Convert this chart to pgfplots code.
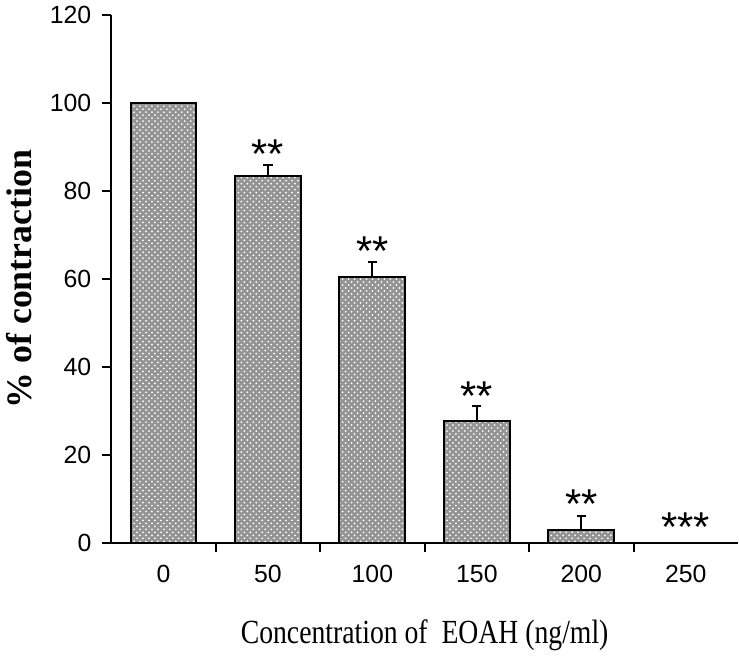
\documentclass[border=0pt]{standalone}
\usepackage{fontspec}
\setmainfont{Liberation Serif}
\newfontfamily\arial{Liberation Sans}
\newfontfamily\condensed[FakeStretch=0.82]{Liberation Serif}
\usepackage{pgfplots}
\pgfplotsset{compat=1.18}
\usetikzlibrary{patterns}
\begin{document}
\begin{tikzpicture}
\begin{axis}[
  scale only axis,
  width=315.5pt, height=265.5pt,
  xmin=-0.5, xmax=5.5,
  ymin=0, ymax=120,
  axis x line=bottom, axis y line=left,
  axis line style={-, line width=1pt},
  /pgf/number format/assume math mode=true,
  xtick={0,1,2,3,4,5},
  xticklabels={0,50,100,150,200,250},
  major x tick style={draw=none},
  minor xtick={0.5,1.5,2.5,3.5,4.5},
  minor x tick style={draw=black, line width=1pt},
  minor tick length=4.5pt,
  ytick={0,20,...,120},
  major tick length=4.5pt,
  y tick style={line width=1pt, black},
  tick align=outside,
  tick label style={font=\arial\fontsize{12.5}{14}\selectfont},
  xticklabel style={yshift=-3pt},
  yticklabel style={xshift=-2pt},
  xlabel={\condensed\fontsize{17}{19}\selectfont Concentration of\ \ EOAH (ng/ml)},
  ylabel={\bfseries\fontsize{18}{20}\selectfont \% of contraction},
  xlabel style={yshift=-12pt},
  ylabel style={yshift=2pt},
  clip=false,
]
\addplot[ybar, bar width=0.63, draw=black, line width=1pt,
  fill=black!42, postaction={pattern=crosshatch dots, pattern color=white},
  error bars/.cd, y dir=plus, y explicit,
  error bar style={line width=1pt, black},
  error mark options={rotate=90, mark size=2.3pt, line width=1pt}]
  coordinates {
  (0,100) +- (0,0)
  (1,83.5) +- (0,2.5)
  (2,60.5) +- (0,3.5)
  (3,27.8) +- (0,3.3)
  (4,3.0) +- (0,3.1)
};
\addplot[only marks, mark=none, point meta=explicit symbolic,
  nodes near coords, nodes near coords align={center},
  every node near coord/.append style={font=\arial\fontsize{21}{21}\selectfont, anchor=center, yshift=-3pt}]
  coordinates {
  (1,89.8) [**]
  (2,67.8) [**]
  (3,34.8) [**]
  (4,10.2) [**]
  (5,5.0) [***]
};
\end{axis}
\end{tikzpicture}
\end{document}
